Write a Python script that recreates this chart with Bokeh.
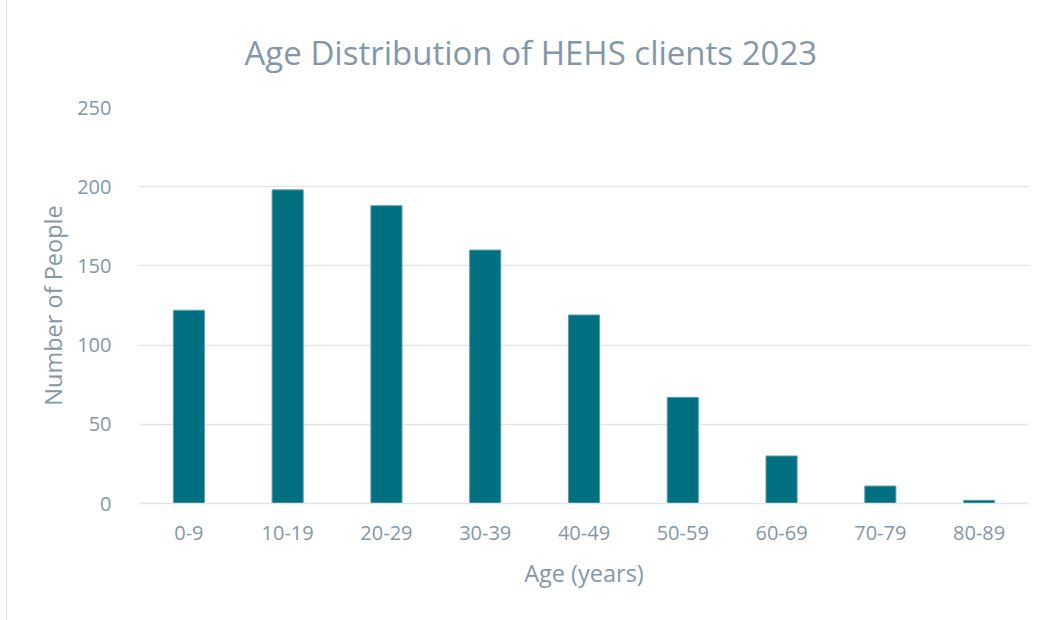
from bokeh.plotting import figure
from bokeh.models import Range1d
from bokeh.embed import file_html
from bokeh.resources import INLINE

age_groups = ["0-9", "10-19", "20-29", "30-39", "40-49", "50-59", "60-69", "70-79", "80-89"]
counts = [122, 198, 188, 160, 119, 67, 30, 11, 2]
y_ticks = [0, 50, 100, 150, 200, 250]
title_text = "Age Distribution of HEHS clients 2023"

TEXT = "#8497A8"
GRID = "#E1E5EA"
BAR = "#006F80"
FONT = "Open Sans"

p = figure(x_range=age_groups, y_range=Range1d(0, 250), width=1051, height=626,
           output_backend="svg", toolbar_location=None,
           min_border_left=132, min_border_right=30, min_border_top=100, min_border_bottom=117)
p.margin = (-6, 0, 0, 6)

p.vbar(x=age_groups, top=counts, width=0.315, fill_color=BAR, line_color="#5E9FAB", line_width=1)

p.title.text = title_text
p.title.align = "left"
p.title.text_font = FONT
p.title.text_font_style = "normal"
p.title.text_font_size = "33px"
p.title.text_color = TEXT
p.title.offset = 105
p.title.standoff = 66

p.outline_line_color = None
p.xgrid.grid_line_color = None
p.ygrid.grid_line_color = GRID
p.ygrid.grid_line_width = 1.5
p.yaxis.ticker = y_ticks

p.yaxis.axis_line_color = None
p.yaxis.major_tick_line_color = None
p.yaxis.minor_tick_line_color = None
p.yaxis.major_label_standoff = 22
p.yaxis.axis_label = "Number of People"
p.yaxis.axis_label_standoff = 5

p.xaxis.axis_line_color = GRID
p.xaxis.axis_line_width = 1.5
p.xaxis.major_tick_line_color = None
p.xaxis.minor_tick_line_color = None
p.xaxis.major_label_standoff = 16
p.xaxis.axis_label = "Age (years)"
p.xaxis.axis_label_standoff = 14

for ax in (p.xaxis[0], p.yaxis[0]):
    ax.major_label_text_font = FONT
    ax.major_label_text_font_size = "20px"
    ax.major_label_text_color = TEXT
    ax.axis_label_text_font = FONT
    ax.axis_label_text_font_size = "23.5px"
    ax.axis_label_text_font_style = "normal"
    ax.axis_label_text_color = TEXT

p.styles = {"border-left": "1px solid #E3E3E3"}

open("out.html", "w").write(file_html(p, INLINE))
